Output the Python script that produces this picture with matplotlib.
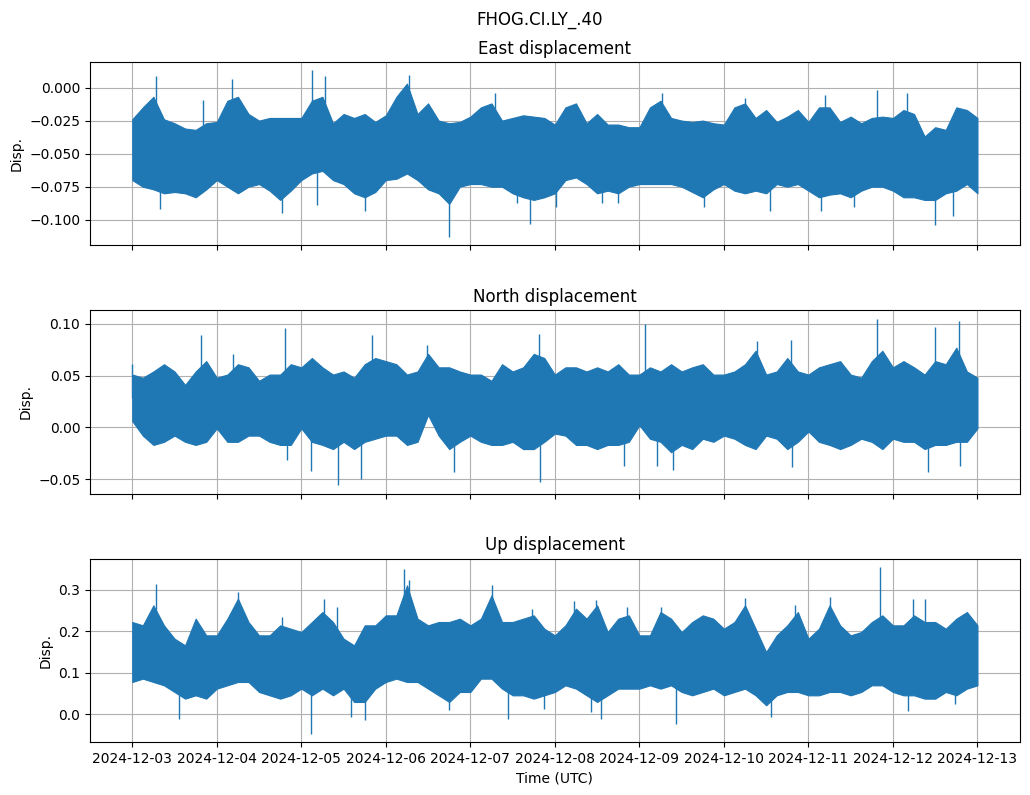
import numpy as np
import pandas as pd
import matplotlib
matplotlib.use("Agg")
import matplotlib.pyplot as plt
import matplotlib.dates as mdates

# envelope of the displacement traces, read every 3 hours (12-03 00:00 .. 12-13 00:00)
east_hi = [-0.024, -0.015, -0.007, -0.024, -0.027, -0.031, -0.032, -0.027,
           -0.026, -0.010, -0.007, -0.020, -0.025, -0.023, -0.023, -0.023,
           -0.023, -0.010, -0.007, -0.027, -0.020, -0.023, -0.020, -0.026,
           -0.021, -0.007, 0.003, -0.020, -0.012, -0.025, -0.027, -0.026,
           -0.022, -0.015, -0.012, -0.025, -0.023, -0.021, -0.022, -0.023,
           -0.028, -0.015, -0.012, -0.027, -0.020, -0.028, -0.028, -0.030,
           -0.030, -0.015, -0.010, -0.023, -0.025, -0.026, -0.025, -0.027,
           -0.028, -0.015, -0.012, -0.023, -0.017, -0.026, -0.022, -0.017,
           -0.026, -0.015, -0.015, -0.026, -0.022, -0.027, -0.023, -0.022,
           -0.023, -0.017, -0.020, -0.037, -0.030, -0.032, -0.015, -0.017, -0.023]
east_lo = [-0.070, -0.075, -0.077, -0.080, -0.079, -0.080, -0.083, -0.077,
           -0.070, -0.075, -0.080, -0.075, -0.073, -0.078, -0.085, -0.078,
           -0.070, -0.065, -0.063, -0.070, -0.073, -0.080, -0.083, -0.079,
           -0.070, -0.069, -0.065, -0.070, -0.077, -0.080, -0.088, -0.075,
           -0.073, -0.073, -0.075, -0.075, -0.080, -0.083, -0.085, -0.083,
           -0.080, -0.070, -0.068, -0.073, -0.080, -0.078, -0.080, -0.075,
           -0.073, -0.073, -0.073, -0.073, -0.075, -0.079, -0.083, -0.077,
           -0.073, -0.078, -0.080, -0.078, -0.080, -0.073, -0.075, -0.073,
           -0.078, -0.083, -0.081, -0.080, -0.083, -0.078, -0.075, -0.075,
           -0.078, -0.083, -0.083, -0.085, -0.085, -0.080, -0.078, -0.073, -0.080]

north_hi = [0.051, 0.048, 0.054, 0.061, 0.054, 0.041, 0.054, 0.064,
            0.048, 0.051, 0.061, 0.058, 0.045, 0.051, 0.051, 0.061,
            0.058, 0.067, 0.058, 0.051, 0.054, 0.048, 0.061, 0.067,
            0.064, 0.061, 0.051, 0.054, 0.071, 0.058, 0.058, 0.054,
            0.051, 0.051, 0.045, 0.061, 0.054, 0.058, 0.071, 0.067,
            0.051, 0.058, 0.058, 0.054, 0.058, 0.054, 0.061, 0.051,
            0.051, 0.058, 0.054, 0.061, 0.054, 0.058, 0.061, 0.051,
            0.051, 0.054, 0.061, 0.074, 0.051, 0.054, 0.067, 0.054,
            0.051, 0.058, 0.061, 0.064, 0.051, 0.048, 0.064, 0.074,
            0.058, 0.064, 0.058, 0.051, 0.064, 0.061, 0.077, 0.054, 0.048]
north_lo = [0.006, -0.008, -0.017, -0.014, -0.008, -0.014, -0.017, -0.014,
            -0.001, -0.014, -0.014, -0.008, -0.008, -0.014, -0.017, -0.017,
            -0.001, -0.014, -0.017, -0.021, -0.014, -0.021, -0.014, -0.011,
            -0.008, -0.008, -0.017, -0.014, 0.012, -0.008, -0.021, -0.014,
            -0.008, -0.014, -0.017, -0.017, -0.014, -0.021, -0.021, -0.014,
            -0.006, -0.008, -0.017, -0.017, -0.021, -0.017, -0.017, -0.014,
            0.002, -0.011, -0.014, -0.024, -0.017, -0.021, -0.011, -0.014,
            -0.008, -0.011, -0.017, -0.021, -0.008, -0.011, -0.021, -0.014,
            -0.004, -0.014, -0.017, -0.021, -0.017, -0.011, -0.014, -0.021,
            -0.011, -0.014, -0.014, -0.021, -0.017, -0.017, -0.014, -0.014, -0.001]

up_hi = [0.222, 0.214, 0.262, 0.214, 0.182, 0.166, 0.230, 0.190,
         0.190, 0.230, 0.278, 0.222, 0.190, 0.190, 0.214, 0.206,
         0.198, 0.222, 0.246, 0.222, 0.182, 0.166, 0.214, 0.214,
         0.238, 0.238, 0.310, 0.230, 0.214, 0.222, 0.222, 0.230,
         0.214, 0.230, 0.286, 0.222, 0.222, 0.230, 0.238, 0.206,
         0.190, 0.214, 0.254, 0.230, 0.262, 0.198, 0.230, 0.238,
         0.190, 0.190, 0.246, 0.230, 0.198, 0.222, 0.238, 0.230,
         0.206, 0.222, 0.262, 0.206, 0.150, 0.190, 0.214, 0.246,
         0.182, 0.206, 0.262, 0.214, 0.190, 0.198, 0.222, 0.238,
         0.214, 0.214, 0.238, 0.222, 0.222, 0.206, 0.230, 0.246, 0.214]
up_lo = [0.078, 0.086, 0.078, 0.070, 0.054, 0.038, 0.046, 0.038,
         0.062, 0.070, 0.078, 0.078, 0.054, 0.046, 0.038, 0.046,
         0.062, 0.046, 0.062, 0.046, 0.062, 0.030, 0.030, 0.062,
         0.078, 0.086, 0.078, 0.078, 0.062, 0.046, 0.030, 0.054,
         0.054, 0.086, 0.086, 0.062, 0.046, 0.046, 0.038, 0.046,
         0.054, 0.070, 0.062, 0.046, 0.030, 0.046, 0.062, 0.062,
         0.062, 0.070, 0.062, 0.070, 0.054, 0.046, 0.054, 0.062,
         0.046, 0.054, 0.062, 0.046, 0.022, 0.046, 0.054, 0.054,
         0.046, 0.046, 0.054, 0.054, 0.046, 0.054, 0.070, 0.070,
         0.054, 0.046, 0.046, 0.038, 0.038, 0.054, 0.046, 0.062, 0.070]

# isolated spikes: hours after 2024-12-03 00:00 and peak value
east_spike_h = [6.6, 8.0, 20.2, 28.4, 42.6, 51.1, 52.4, 54.7, 66.1, 78.6, 89.9, 103.0,
                109.2, 113.0, 120.4, 133.4, 138.0, 150.4, 162.3, 174.1, 181.0, 195.6,
                196.6, 204.9, 211.6, 220.0, 227.9, 233.0]
east_spike_v = [0.0086, -0.092, -0.0096, 0.0063, -0.095, 0.013, -0.089, 0.0086, -0.093,
                0.0093, -0.113, -0.0045, -0.087, -0.103, -0.090, -0.087, -0.087, -0.0038,
                -0.090, -0.0076, -0.093, -0.093, -0.0053, -0.090, -0.0015, -0.0045,
                -0.104, -0.097]

north_spike_h = [0.0, 19.4, 28.7, 43.5, 44.0, 50.8, 58.3, 64.9, 68.0, 83.8, 91.5, 115.5,
                 115.7, 139.6, 145.7, 148.9, 153.6, 177.3, 187.0, 187.2, 211.5, 226.0,
                 227.9, 234.8, 235.0]
north_spike_v = [0.061, 0.089, 0.071, 0.096, -0.032, -0.042, -0.056, -0.050, 0.089, 0.080,
                 -0.043, 0.090, -0.053, -0.037, 0.100, -0.037, -0.041, 0.083, 0.084, -0.038,
                 0.105, -0.043, 0.097, 0.103, -0.037]

up_spike_h = [6.6, 13.4, 29.9, 42.4, 50.7, 54.4, 58.2, 62.0, 66.1, 77.1, 78.6, 89.9,
              102.2, 106.6, 113.6, 116.9, 125.3, 130.3, 131.7, 133.1, 140.5, 150.1,
              154.3, 173.9, 181.5, 188.3, 198.2, 212.3, 220.4, 221.6, 225.1, 233.5]
up_spike_v = [0.314, -0.010, 0.293, 0.234, -0.046, 0.278, 0.258, -0.006, -0.014, 0.350,
              0.322, 0.010, 0.312, -0.010, 0.254, 0.014, 0.272, 0.006, 0.276, -0.011,
              0.258, 0.258, -0.022, 0.280, -0.007, 0.264, 0.282, 0.354, 0.009, 0.278,
              0.278, 0.026]

start = pd.Timestamp("2024-12-03")
times = pd.date_range(start, periods=len(east_hi), freq="3h")

panels = [
    ("East displacement", east_hi, east_lo, east_spike_h, east_spike_v),
    ("North displacement", north_hi, north_lo, north_spike_h, north_spike_v),
    ("Up displacement", up_hi, up_lo, up_spike_h, up_spike_v),
]

fig, axes = plt.subplots(3, 1, figsize=(10.3, 7.95), dpi=100, sharex=True)
fig.subplots_adjust(left=0.0874, right=0.990, top=0.922, bottom=0.0667, hspace=0.355)
fig.suptitle("FHOG.CI.LY_.40", x=0.524, y=0.986, fontsize=12)

color = "#1f77b4"
hours = (times - start) / pd.Timedelta(hours=1)
for ax, (title, hi, lo, sp_h, sp_v) in zip(axes, panels):
    hi = np.array(hi)
    lo = np.array(lo)
    ax.fill_between(times, lo, hi, color=color, lw=0.8, zorder=2)
    sp_t = start + pd.to_timedelta(sp_h, unit="h")
    base = np.interp(sp_h, hours, (hi + lo) / 2)
    ax.vlines(sp_t, base, sp_v, color=color, lw=1.0, zorder=2)
    ax.set_title(title)
    ax.set_ylabel("Disp.")
    ax.grid(True)

axes[-1].xaxis.set_major_locator(mdates.DayLocator())
axes[-1].xaxis.set_major_formatter(mdates.DateFormatter("%Y-%m-%d"))
axes[-1].set_xlabel("Time (UTC)")

fig.savefig("out.png", dpi=100)
